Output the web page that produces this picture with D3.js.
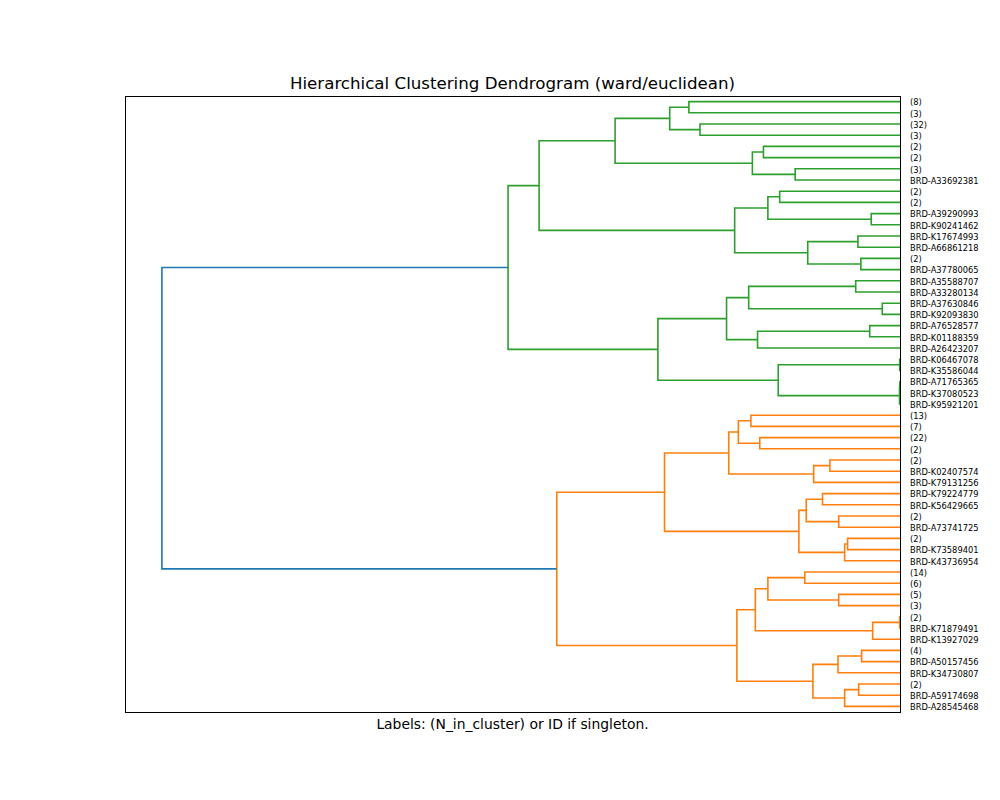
<!DOCTYPE html>
<html>
<head>
<meta charset="utf-8">
<script src="https://cdn.jsdelivr.net/npm/d3@7"></script>
<style>
  html, body { margin: 0; padding: 0; background: #fff; }
  svg { display: block; font-family: "DejaVu Sans", sans-serif; }
</style>
</head>
<body>
<svg id="chart" width="1000" height="800"></svg>
<script>
// Leaf labels, top to bottom
const leafLabels = [
  "(8)", "(3)", "(32)", "(3)", "(2)", "(2)", "(3)", "BRD-A33692381",
  "(2)", "(2)", "BRD-A39290993", "BRD-K90241462", "BRD-K17674993", "BRD-A66861218",
  "(2)", "BRD-A37780065", "BRD-A35588707", "BRD-A33280134", "BRD-A37630846",
  "BRD-K92093830", "BRD-A76528577", "BRD-K01188359", "BRD-A26423207",
  "BRD-K06467078", "BRD-K35586044", "BRD-A71765365", "BRD-K37080523", "BRD-K95921201",
  "(13)", "(7)", "(22)", "(2)", "(2)", "BRD-K02407574", "BRD-K79131256",
  "BRD-K79224779", "BRD-K56429665", "(2)", "BRD-A73741725", "(2)",
  "BRD-K73589401", "BRD-K43736954", "(14)", "(6)", "(5)", "(3)", "(2)",
  "BRD-K71879491", "BRD-K13927029", "(4)", "BRD-A50157456", "BRD-K34730807",
  "(2)", "BRD-A59174698", "BRD-A28545468"
];

// Linkage: merge k creates node id (leafLabels.length + k)
const mergeLeft   = [23, 25, 56, 46, 18, 58, 10, 20, 49, 14, 52, 12, 16, 39, 68, 65, 44, 37, 63, 32, 35, 74, 73, 66, 75, 42, 79, 6, 8, 55, 83, 80, 4, 30, 62, 86, 87, 28, 67, 92, 90, 85, 94, 93, 2, 0, 100, 97, 98, 101, 104, 102, 105, 107];
const mergeRight  = [24, 26, 27, 47, 19, 48, 11, 21, 50, 15, 53, 13, 17, 40, 41, 54, 45, 38, 51, 33, 36, 34, 70, 64, 72, 43, 69, 7, 9, 57, 61, 71, 5, 31, 22, 60, 82, 29, 59, 88, 77, 78, 76, 89, 3, 1, 99, 81, 84, 91, 96, 95, 103, 106];
const mergeHeight = [0.04, 0.03, 0.06, 0.04, 2.4, 3.7, 3.9, 4.1, 5.2, 5.3, 5.6, 5.7, 6.0, 7.1, 7.5, 7.5, 8.3, 8.3, 8.4, 9.5, 10.5, 11.7, 11.8, 12.5, 12.7, 12.9, 13.7, 14.2, 16.3, 16.5, 17.9, 17.9, 18.5, 19.0, 19.3, 19.6, 20.0, 20.2, 20.5, 21.9, 22.1, 22.4, 23.2, 23.5, 27.1, 28.6, 31.2, 31.9, 32.8, 38.6, 48.9, 46.5, 53.1, 100.0];

const clusterColors = ["#2ca02c", "#ff7f0e"]; // top cluster, bottom cluster
const aboveThresholdColor = "#1f77b4";
const colorThreshold = 70;

const titleText = "Hierarchical Clustering Dendrogram (ward/euclidean)";
const xLabelText = "Labels: (N_in_cluster) or ID if singleton.";

// ---- layout ----
const svg = d3.select("#chart");
const pLeft = 125, pRight = 900, pTop = 96, pBottom = 712;
const N = leafLabels.length;
const maxH = d3.max(mergeHeight);

const x = d3.scaleLinear().domain([0, maxH * 1.05]).range([pRight, pLeft]);
const y = d3.scaleLinear().domain([0, N * 10]).range([pTop, pBottom]);

// node positions
const nodeY = [], nodeH = [];
for (let i = 0; i < N; i++) { nodeY[i] = y(5 + 10 * i); nodeH[i] = 0; }
for (let k = 0; k < mergeHeight.length; k++) {
  const id = N + k;
  nodeY[id] = (nodeY[mergeLeft[k]] + nodeY[mergeRight[k]]) / 2;
  nodeH[id] = mergeHeight[k];
}

// colour assignment: subtree of each child of the root gets cluster colour
const nodeColor = [];
const rootK = mergeHeight.length - 1;
function paint(id, c) {
  nodeColor[id] = c;
  if (id >= N) { const k = id - N; paint(mergeLeft[k], c); paint(mergeRight[k], c); }
}
paint(mergeLeft[rootK], clusterColors[0]);
paint(mergeRight[rootK], clusterColors[1]);

const g = svg.append("g");
const links = d3.range(mergeHeight.length).map(k => {
  const a = mergeLeft[k], b = mergeRight[k], h = mergeHeight[k];
  const col = h > colorThreshold ? aboveThresholdColor : nodeColor[N + k];
  return { a, b, h, col };
});

const line = d3.line();
g.selectAll("path.link").data(links).join("path")
  .attr("class", "link")
  .attr("fill", "none")
  .attr("stroke", d => d.col)
  .attr("stroke-width", 1.6)
  .attr("stroke-linejoin", "miter")
  .attr("d", d => line([
    [x(nodeH[d.a]), nodeY[d.a]],
    [x(d.h), nodeY[d.a]],
    [x(d.h), nodeY[d.b]],
    [x(nodeH[d.b]), nodeY[d.b]]
  ]));

// frame
svg.append("rect")
  .attr("x", pLeft + 0.5).attr("y", pTop + 0.5)
  .attr("width", pRight - pLeft).attr("height", pBottom - pTop)
  .attr("fill", "none").attr("stroke", "#000").attr("stroke-width", 1);

// leaf label axis
const leafPos = d3.range(N).map(i => 5 + 10 * i);
const yAxis = d3.axisRight(y)
  .tickValues(leafPos)
  .tickFormat((d, i) => leafLabels[i])
  .tickSize(0)
  .tickPadding(10);
const ax = svg.append("g").attr("transform", `translate(${pRight},0.6)`).call(yAxis);
ax.select(".domain").remove();
ax.selectAll("text")
  .attr("font-family", "DejaVu Sans, sans-serif")
  .attr("font-size", "8.3px")
  .attr("fill", "#000");

// title
svg.append("text")
  .attr("x", (pLeft + pRight) / 2).attr("y", pTop - 7.5)
  .attr("text-anchor", "middle")
  .attr("font-size", "16.67px")
  .attr("fill", "#000")
  .text(titleText);

// x label
svg.append("text")
  .attr("x", (pLeft + pRight) / 2).attr("y", pBottom + 17)
  .attr("text-anchor", "middle")
  .attr("font-size", "13.89px")
  .attr("fill", "#000")
  .text(xLabelText);
</script>
</body>
</html>
